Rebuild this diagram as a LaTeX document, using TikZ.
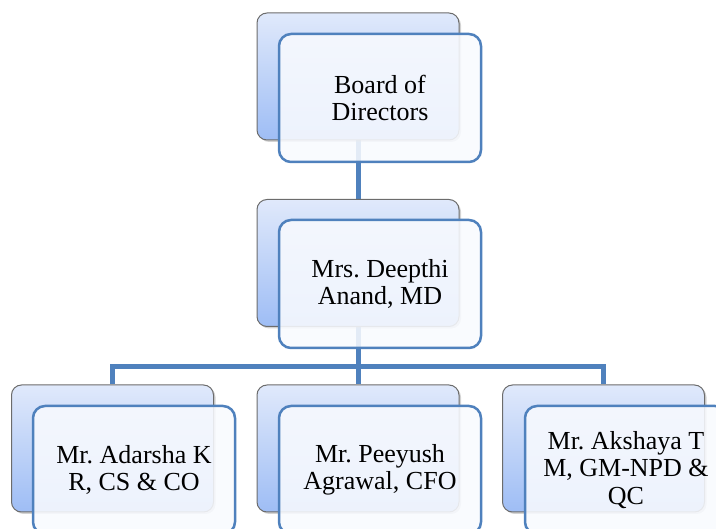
\documentclass[tikz,border=0pt]{standalone}
\usepackage{fontspec}
\setmainfont{Liberation Serif}
\usetikzlibrary{shadows,backgrounds}

\definecolor{linkblue}{RGB}{79,129,189}
\definecolor{backtop}{RGB}{224,233,251}
\definecolor{backbot}{RGB}{158,189,245}
\definecolor{frontfill}{RGB}{248,250,254}

\tikzset{
  backbox/.style={draw=gray!85!black, line width=1pt, rounded corners=10pt,
    minimum width=202pt, minimum height=127pt,
    top color=backtop, bottom color=backbot,
    drop shadow={opacity=0.35, shadow xshift=2pt, shadow yshift=-2pt}},
  frontbox/.style={draw=linkblue, line width=2.5pt, rounded corners=12pt,
    minimum width=202pt, minimum height=128pt,
    fill=frontfill, fill opacity=0.88, text opacity=1, align=center,
    font=\fontsize{26}{27.5}\selectfont\frenchspacing},
  link/.style={draw=linkblue, line width=5pt}
}

\begin{document}
\begin{tikzpicture}[x=1pt, y=-1pt]
  \useasboundingbox (0,0) rectangle (716,529);

  % back boxes
  \node[backbox] (bod) at (358,76.5) {};
  \node[backbox] (md) at (358,263) {};
  \node[backbox] (cs) at (112.5,448.5) {};
  \node[backbox] (cfo) at (358,448.5) {};
  \node[backbox] (npd) at (603.5,448.5) {};

  % front boxes
  \node[frontbox] (bodtext) at (380,98) {Board of\\Directors};
  \node[frontbox] (mdtext) at (380,284) {Mrs. Deepthi\\Anand, MD};
  \node[frontbox] (cstext) at (134,470) {Mr. Adarsha K\\R, CS \& CO};
  \node[frontbox] (cfotext) at (380,470) {Mr. Peeyush\\Agrawal, CFO};
  \node[frontbox] (npdtext) at (626,470) {Mr. Akshaya T\\M, GM-NPD \&\\QC};

  \coordinate (bus) at (358,367);

  \begin{scope}[on background layer]
    \draw[link] (bod) -- (md);
    \draw[link] (md) -- (bus);
    \draw[link] (bus) -| (cs.north);
    \draw[link] (bus) -- (cfo.north);
    \draw[link] (bus) -| (npd.north);
  \end{scope}
\end{tikzpicture}
\end{document}
